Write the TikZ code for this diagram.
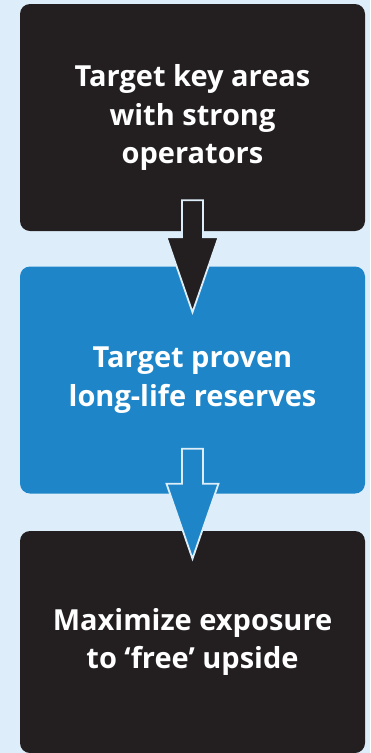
\documentclass[tikz,border=0pt]{standalone}
\usepackage{fontspec}
\setmainfont{Open Sans}
\usepackage{tikz}
\usetikzlibrary{calc,positioning}

\definecolor{paleblue}{HTML}{DDEEFA}
\definecolor{boxblack}{HTML}{231F20}
\definecolor{boxblue}{HTML}{1E86C8}

% block arrow hanging below a node: shaft starts #2 above its south side
\newcommand{\downarrowblock}[4]{%
  \filldraw[fill=#4,draw=paleblue,line width=1.8pt,line join=miter]
    ($(#1.south)+(-10.5,-#2)$) -- ($(#1.south)+(10.5,-#2)$)
    -- ($(#1.south)+(10.5,#3)$) -- ($(#1.south)+(26,#3)$)
    -- ($(#1.south)+(0,#3+75)$) -- ($(#1.south)+(-26,#3)$)
    -- ($(#1.south)+(-10.5,#3)$) -- cycle;}

\begin{document}
\begin{tikzpicture}[x=1pt,y=-1pt,
  stage/.style={rounded corners=10pt,minimum width=345pt,minimum height=227pt,
    inner sep=0pt,align=center,text=white,
    font=\fontsize{29}{38.5}\selectfont\bfseries}]
\fill[paleblue] (0,0) rectangle (370,753);
\useasboundingbox (0,0) rectangle (370,753);

\node[stage,fill=boxblack] (areas) at (192.5,117.5) {Target key areas\\with strong\\operators};
\node[stage,fill=boxblue] (reserves) at (192.5,380) {Target proven\\long-life reserves};
\node[stage,fill=boxblack,minimum height=222pt] (upside) at (192.5,642) {Maximize exposure\\to ‘free’ upside};

\downarrowblock{areas}{31}{6}{boxblack}
\downarrowblock{reserves}{45}{-10}{boxblue}
\end{tikzpicture}
\end{document}
